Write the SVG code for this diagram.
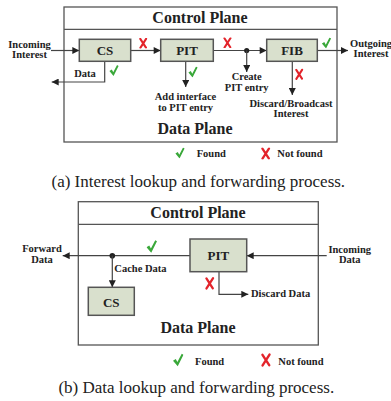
<svg xmlns="http://www.w3.org/2000/svg" width="391" height="401" viewBox="0 0 391 401">
  <style>
    .frame{fill:#fff;stroke:#555;stroke-width:1.3}
    .sep{stroke:#555;stroke-width:1.3}
    .node{fill:#d9e0cd;stroke:#555;stroke-width:1.5}
    .wire{fill:none;stroke:#444;stroke-width:1.2}
    .t{font-family:"Liberation Serif","Times New Roman",serif;font-weight:bold;fill:#222}
    .title{font-size:16px}
    .lbl{font-size:10.5px}
    .name{font-size:13px}
    .cap{font-family:"Liberation Serif","Times New Roman",serif;font-size:17px;fill:#222}
    .mid{text-anchor:middle}
  </style>
  <defs>
    <marker id="arrow" viewBox="0 0 8 8" refX="8" refY="4" markerWidth="7.5" markerHeight="7" markerUnits="userSpaceOnUse" orient="auto">
      <path d="M0 0 L8 4 L0 8 Z" fill="#222"/>
    </marker>
    <symbol id="check" viewBox="0 0 10 12">
      <path d="M0 6.6 L2.6 5.0 L4.2 7.9 L8.3 0 L10 1.0 L4.5 12 Z" fill="#3aa83a"/>
    </symbol>
    <symbol id="cross" viewBox="0 0 10 12">
      <path d="M1.5 0.8 L8.2 11.2 M8.5 0.6 L1.6 11.4" fill="none" stroke="#e3242b" stroke-width="2.4" stroke-linecap="round"/>
    </symbol>
  </defs>

  <!-- (a) Interest lookup and forwarding -->
  <g id="frame-a">
    <rect class="frame" x="64" y="7" width="273" height="135"/>
    <line class="sep" x1="64" y1="29.3" x2="337" y2="29.3"/>
    <text class="t title mid" x="200" y="22.7">Control Plane</text>
    <text class="t title mid" x="195" y="134.3">Data Plane</text>
  </g>

  <g id="connectors-a">
    <line class="wire" x1="51" y1="50.5" x2="79.3" y2="50.5" marker-end="url(#arrow)"/>
    <line class="wire" x1="130.7" y1="50.5" x2="160.7" y2="50.5" marker-end="url(#arrow)"/>
    <line class="wire" x1="213.3" y1="50.5" x2="266.7" y2="50.5" marker-end="url(#arrow)"/>
    <circle cx="246.7" cy="50.5" r="2.6" fill="#222"/>
    <line class="wire" x1="246.7" y1="50.5" x2="246.7" y2="72" marker-end="url(#arrow)"/>
    <line class="wire" x1="317.3" y1="50.5" x2="348" y2="50.5" marker-end="url(#arrow)"/>
    <path class="wire" d="M104.7 61.3 V82 H51.7" marker-end="url(#arrow)"/>
    <line class="wire" x1="185.7" y1="61.3" x2="185.7" y2="87" marker-end="url(#arrow)"/>
    <line class="wire" x1="292.3" y1="61.3" x2="292.3" y2="95" marker-end="url(#arrow)"/>
  </g>

  <g id="cs-a">
    <rect class="node" x="79.3" y="39.3" width="51.4" height="22"/>
    <text class="t name mid" x="105" y="55">CS</text>
  </g>
  <g id="pit-a">
    <rect class="node" x="160.7" y="39.3" width="52.6" height="22"/>
    <text class="t name mid" x="187" y="55">PIT</text>
  </g>
  <g id="fib-a">
    <rect class="node" x="266.7" y="39.3" width="50.6" height="22"/>
    <text class="t name mid" x="292" y="55">FIB</text>
  </g>

  <g id="labels-a">
    <text class="t lbl mid" x="29.5" y="47.7">Incoming</text>
    <text class="t lbl mid" x="29.5" y="57.7">Interest</text>
    <text class="t lbl mid" x="85" y="77">Data</text>
    <text class="t lbl mid" x="185.5" y="100">Add interface</text>
    <text class="t lbl mid" x="185.5" y="110.7">to PIT entry</text>
    <text class="t lbl mid" x="246.7" y="80">Create</text>
    <text class="t lbl mid" x="246.7" y="90.7">PIT entry</text>
    <text class="t lbl mid" x="291" y="106.7">Discard/Broadcast</text>
    <text class="t lbl mid" x="291" y="117.3">Interest</text>
    <text class="t lbl mid" x="371" y="46.7">Outgoing</text>
    <text class="t lbl mid" x="371" y="57.3">Interest</text>
  </g>

  <g id="marks-a">
    <use href="#check" x="109" y="65" width="10" height="11"/>
    <use href="#cross" x="139" y="38" width="8.5" height="10.5"/>
    <use href="#check" x="188" y="66.5" width="10" height="11"/>
    <use href="#cross" x="223" y="37.5" width="9" height="10.5"/>
    <use href="#check" x="321.5" y="37.5" width="10" height="11"/>
    <use href="#cross" x="295" y="68.5" width="8.5" height="11.5"/>
  </g>

  <g id="legend-a">
    <use href="#check" x="175" y="147.5" width="10" height="11"/>
    <text class="t lbl" x="196.7" y="156.7">Found</text>
    <use href="#cross" x="261" y="147.5" width="9.5" height="12"/>
    <text class="t lbl" x="277.3" y="156.7">Not found</text>
  </g>
  <text class="cap mid" x="198.3" y="186.5">(a) Interest lookup and forwarding process.</text>

  <!-- (b) Data lookup and forwarding -->
  <g id="frame-b">
    <rect class="frame" x="78.3" y="201.7" width="240" height="143.3"/>
    <line class="sep" x1="78.3" y1="224.3" x2="318.3" y2="224.3"/>
    <text class="t title mid" x="198" y="217.7">Control Plane</text>
    <text class="t title mid" x="198" y="333.3">Data Plane</text>
  </g>

  <g id="connectors-b">
    <line class="wire" x1="326.7" y1="255.7" x2="246.7" y2="255.7" marker-end="url(#arrow)"/>
    <line class="wire" x1="190" y1="255.7" x2="62.7" y2="255.7" marker-end="url(#arrow)"/>
    <circle cx="112.3" cy="255.7" r="2.8" fill="#222"/>
    <line class="wire" x1="112.3" y1="255.7" x2="112.3" y2="287.3" marker-end="url(#arrow)"/>
    <path class="wire" d="M219 271.7 V294.3 H248.3" marker-end="url(#arrow)"/>
  </g>

  <g id="pit-b">
    <rect class="node" x="190" y="239" width="56.7" height="32.7"/>
    <text class="t name mid" x="218.3" y="259.7">PIT</text>
  </g>
  <g id="cs-b">
    <rect class="node" x="88.3" y="287.3" width="46" height="28"/>
    <text class="t name mid" x="111.3" y="306.7">CS</text>
  </g>

  <g id="labels-b">
    <text class="t lbl mid" x="349.7" y="252.7">Incoming</text>
    <text class="t lbl mid" x="349.7" y="263.3">Data</text>
    <text class="t lbl mid" x="42" y="252.3">Forward</text>
    <text class="t lbl mid" x="42" y="263.3">Data</text>
    <text class="t lbl" x="114.3" y="272.3">Cache Data</text>
    <text class="t lbl" x="251" y="296.7">Discard Data</text>
  </g>

  <g id="marks-b">
    <use href="#check" x="146.5" y="240" width="10.5" height="13"/>
    <use href="#cross" x="205" y="276.7" width="9.5" height="13.3"/>
  </g>

  <g id="legend-b">
    <use href="#check" x="173" y="353" width="10.5" height="14"/>
    <text class="t lbl" x="195" y="365">Found</text>
    <use href="#cross" x="261" y="353" width="10" height="14"/>
    <text class="t lbl" x="278.3" y="365">Not found</text>
  </g>
  <text class="cap mid" x="196.3" y="393.3">(b) Data lookup and forwarding process.</text>
</svg>
